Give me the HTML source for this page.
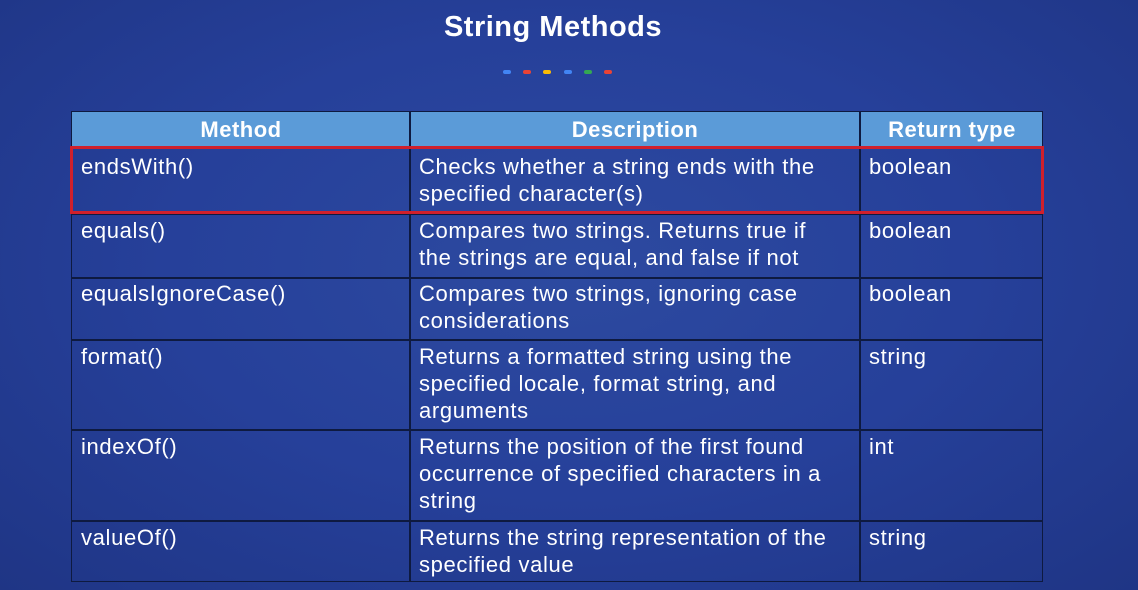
<!DOCTYPE html>
<html><head><meta charset="utf-8"><style>
html,body{margin:0;padding:0}
body{width:1138px;height:590px;overflow:hidden;position:relative;
background:radial-gradient(ellipse at 50% 45%,#2d4aa0 0%,#26409a 50%,#1f3585 100%);
font-family:"Liberation Sans",sans-serif;color:#fff}
.title{position:absolute;left:0;width:1106px;top:11px;text-align:center;font-size:29px;font-weight:bold;letter-spacing:0.5px}
.dot{position:absolute;top:70px;width:8px;height:4px;border-radius:2px}
.tbl{position:absolute;left:71px;top:111px;width:972px;height:471px;border:1.5px solid #0e1a40;box-sizing:border-box}
.hdr{position:absolute;left:0;top:0;width:100%;height:36px;background:#5b9bd8}
.h{position:absolute;top:0;height:36px;line-height:36px;text-align:center;font-weight:bold;font-size:22px;letter-spacing:0.5px}
.vl{position:absolute;top:0;bottom:0;width:2px;background:#0e1a40}
.hl{position:absolute;left:0;right:0;height:2px;background:#0e1a40}
.c{position:absolute;font-size:22px;line-height:27px;white-space:nowrap;letter-spacing:0.65px}
.red{position:absolute;left:70px;top:146px;width:974px;height:68px;border:3px solid #d0202c;box-sizing:border-box}
</style></head><body>
<div class="title">String Methods</div>
<div class="dot" style="left:503px;background:#4285f4"></div>
<div class="dot" style="left:523px;background:#ea4335"></div>
<div class="dot" style="left:543px;background:#fbbc05"></div>
<div class="dot" style="left:564px;background:#4285f4"></div>
<div class="dot" style="left:584px;background:#34a853"></div>
<div class="dot" style="left:604px;background:#ea4335"></div>
<div class="tbl">
<div class="hdr"></div>
<div class="h" style="left:0;width:338px">Method</div>
<div class="h" style="left:338px;width:450px">Description</div>
<div class="h" style="left:788px;width:184px">Return type</div>
<div class="vl" style="left:337px"></div>
<div class="vl" style="left:787px"></div>
<div class="hl" style="top:35px"></div>
<div class="hl" style="top:101px"></div>
<div class="hl" style="top:165px"></div>
<div class="hl" style="top:227px"></div>
<div class="hl" style="top:317px"></div>
<div class="hl" style="top:408px"></div>
</div>
<div class="c" style="left:81px;top:153px">endsWith()</div>
<div class="c" style="left:419px;top:153px">Checks whether a string ends with the<br>specified character(s)</div>
<div class="c" style="left:869px;top:153px">boolean</div>
<div class="c" style="left:81px;top:217px">equals()</div>
<div class="c" style="left:419px;top:217px">Compares two strings. Returns true if<br>the strings are equal, and false if not</div>
<div class="c" style="left:869px;top:217px">boolean</div>
<div class="c" style="left:81px;top:280px">equalsIgnoreCase()</div>
<div class="c" style="left:419px;top:280px">Compares two strings, ignoring case<br>considerations</div>
<div class="c" style="left:869px;top:280px">boolean</div>
<div class="c" style="left:81px;top:343px">format()</div>
<div class="c" style="left:419px;top:343px">Returns a formatted string using the<br>specified locale, format string, and<br>arguments</div>
<div class="c" style="left:869px;top:343px">string</div>
<div class="c" style="left:81px;top:433px">indexOf()</div>
<div class="c" style="left:419px;top:433px">Returns the position of the first found<br>occurrence of specified characters in a<br>string</div>
<div class="c" style="left:869px;top:433px">int</div>
<div class="c" style="left:81px;top:524px">valueOf()</div>
<div class="c" style="left:419px;top:524px">Returns the string representation of the<br>specified value</div>
<div class="c" style="left:869px;top:524px">string</div>
<div class="red"></div>
</body></html>
